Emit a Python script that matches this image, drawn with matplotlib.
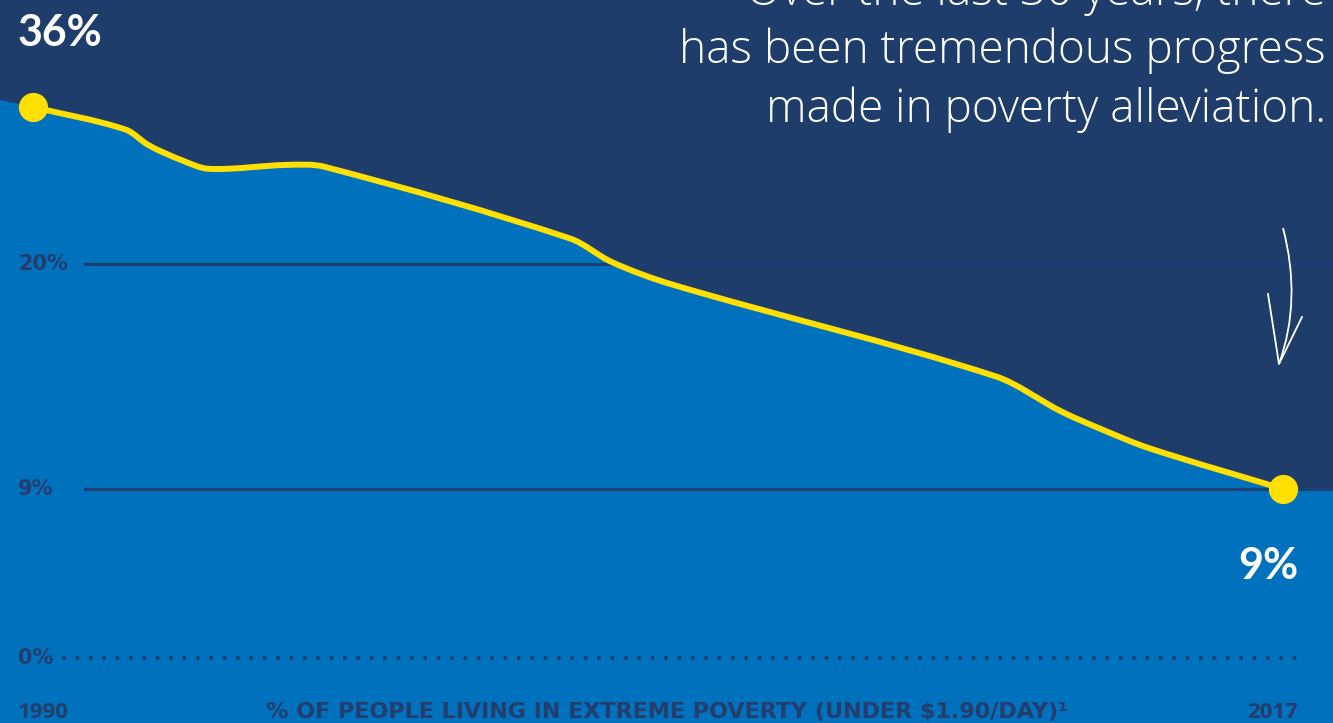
import numpy as np
import matplotlib
matplotlib.use("Agg")
import matplotlib.pyplot as plt
from matplotlib.path import Path
from matplotlib.patches import PathPatch

# poverty rate
years = [1990, 1992.0, 1992.5, 1993.2, 1993.8, 1995.5, 1996.3, 2001.6,
         2002.5, 2003.8, 2010.8, 2012.2, 2013.1, 2014.1, 2017]
poverty = [36.0, 33.7, 32.1, 30.6, 29.7, 30.1, 29.9, 22.6,
           20.2, 19.0, 14.5, 12.8, 11.9, 11.0, 9.0]
tick_vals = [0, 9, 20]
tick_labels = ["0%", "9%", "20%"]
start_label = "36%"
end_label = "9%"

NAVY = "#1f3d6b"
BLUE = "#0071bc"
YELLOW = "#ffe000"
LABEL = "#243d6c"

# the original uses an uneven vertical scale
V = np.array([0, 9, 20, 36], float)
P = np.array([0, 169, 394, 551], float)
s0 = (P[1] - P[0]) / (V[1] - V[0])
s1 = (P[-1] - P[-2]) / (V[-1] - V[-2])

def fwd(v):
    v = np.asarray(v, float)
    out = np.interp(v, V, P)
    out = np.where(v < V[0], P[0] + (v - V[0]) * s0, out)
    out = np.where(v > V[-1], P[-1] + (v - V[-1]) * s1, out)
    return out

def inv(p):
    p = np.asarray(p, float)
    out = np.interp(p, P, V)
    out = np.where(p < P[0], V[0] + (p - P[0]) / s0, out)
    out = np.where(p > P[-1], V[-1] + (p - P[-1]) / s1, out)
    return out

W, H = 1333, 723
fig = plt.figure(figsize=(W / 100, H / 100), dpi=100)
fig.patch.set_facecolor(NAVY)
ax = fig.add_axes([0, 0, 1, 1])
ax.set_facecolor(NAVY)
ax.set_yscale("function", functions=(fwd, inv))
x0 = 1990 - 33 / 46.3
x1 = 1990 + 1300 / 46.3
ax.set_xlim(x0, x1)
ax.set_ylim(float(inv(-65)), float(inv(723 - 65)))
ax.set_xticks([])
ax.set_yticks([])
for s in ax.spines.values():
    s.set_visible(False)

# smooth curve through the points (cubic hermite in display space)
pts = ax.transData.transform(np.column_stack([years, poverty]))
px, py = pts[:, 0], pts[:, 1]
n = len(px)
m = np.zeros(n)
m[0] = (py[1] - py[0]) / (px[1] - px[0])
m[-1] = (py[-1] - py[-2]) / (px[-1] - px[-2])
for i in range(1, n - 1):
    m[i] = (py[i + 1] - py[i - 1]) / (px[i + 1] - px[i - 1])
verts = [(px[0], py[0])]
codes = [Path.MOVETO]
for i in range(n - 1):
    h = px[i + 1] - px[i]
    verts += [(px[i] + h / 3, py[i] + m[i] * h / 3),
              (px[i + 1] - h / 3, py[i + 1] - m[i + 1] * h / 3),
              (px[i + 1], py[i + 1])]
    codes += [Path.CURVE4] * 3
curve = Path(verts, codes)

# area, extended to the edges
left_y = py[0] - m[0] * px[0]
area_v = [(-5, -5), (-5, left_y)] + verts + [(W + 5, py[-1]), (W + 5, -5), (-5, -5)]
area_c = [Path.MOVETO, Path.LINETO, Path.LINETO] + codes[1:] + \
         [Path.LINETO, Path.LINETO, Path.CLOSEPOLY]
ax.add_patch(PathPatch(Path(area_v, area_c), transform=None, fc=BLUE, lw=0,
                       zorder=1))

# gridlines
for v in [9, 20]:
    ax.axhline(v, xmin=85 / W, xmax=1, color="#1e3f73", lw=2.2, zorder=2)
ax.plot([1990.66, 2017.37], [0, 0], color=LABEL, lw=3.0,
        linestyle=(0, (0.01, 3.2)), dash_capstyle="round", zorder=2)

ax.add_patch(PathPatch(curve, transform=None, fill=False, ec=YELLOW, lw=4.3,
                       zorder=3, capstyle="round", joinstyle="round"))
ax.plot([years[0], years[-1]], [poverty[0], poverty[-1]], "o", color=YELLOW,
        ms=20, zorder=4)

tr = ax.get_yaxis_transform()
for v, lab in zip(tick_vals, tick_labels):
    ax.text(18 / W, v, lab, transform=tr, ha="left", va="center",
            fontsize=15, fontweight="bold", color=LABEL, family="DejaVu Sans")

def fx(x):
    return x / W

def fy(y):
    return 1 - y / H

fig.text(fx(18), fy(33), start_label, ha="left", va="center", fontsize=31,
         fontweight="bold", color="white", family="Lato")
fig.text(fx(1298), fy(566), end_label, ha="right", va="center", fontsize=31,
         fontweight="bold", color="white", family="Lato")

fig.text(fx(18), fy(712), "1990", ha="left", va="center", fontsize=16,
         fontweight="bold", color=LABEL, family="Open Sans")
fig.text(fx(1298), fy(712), "2017", ha="right", va="center", fontsize=16,
         fontweight="bold", color=LABEL, family="Open Sans")
fig.text(fx(667), fy(712), "% OF PEOPLE LIVING IN EXTREME POVERTY (UNDER $1.90/DAY)¹",
         ha="center", va="center", fontsize=16, fontweight="bold", color=LABEL,
         family="DejaVu Sans")

lines = ["Over the last 30 years, there", "has been tremendous progress",
         "made in poverty alleviation."]
for i, line in enumerate(lines):
    fig.text(fx(1326), fy(5 + 58.5 * i), line, ha="right", va="baseline",
             fontsize=33, fontweight=300, color="white", family="Open Sans")

# hand drawn arrow
shaft = Path([(fx(1283), fy(228)), (fx(1302), fy(300)), (fx(1279), fy(364))],
             [Path.MOVETO, Path.CURVE3, Path.CURVE3])
fig.patches.append(PathPatch(shaft, transform=fig.transFigure, fill=False,
                             ec="white", lw=1.3))
fig.add_artist(plt.Line2D([fx(1268), fx(1279), fx(1302)],
                          [fy(294), fy(364), fy(317)], color="white", lw=1.3,
                          transform=fig.transFigure))

fig.savefig("out.png", dpi=100, facecolor=NAVY)
